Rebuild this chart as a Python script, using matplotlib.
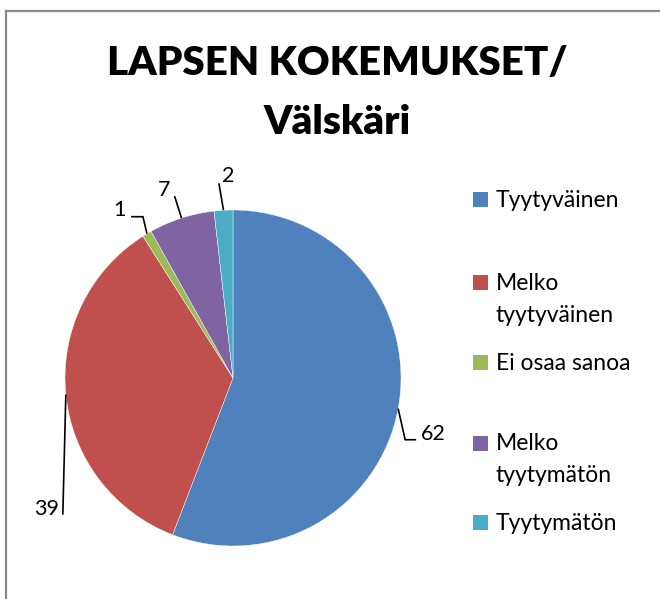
import numpy as np
import matplotlib
matplotlib.use("Agg")
import matplotlib.pyplot as plt
from matplotlib.lines import Line2D
from matplotlib.patches import Rectangle

# ---- data ----
categories = ["Tyytyväinen", "Melko\ntyytyväinen", "Ei osaa sanoa", "Melko\ntyytymätön", "Tyytymätön"]
values = [62, 39, 1, 7, 2]
colors = ["#4F81BD", "#C0504D", "#9BBB59", "#8064A2", "#4BACC6"]
title = "LAPSEN KOKEMUKSET/\nVälskäri"

W, H = 660, 599
FONT = "Lato"

fig = plt.figure(figsize=(W / 100, H / 100), dpi=100)
fig.patch.set_facecolor("white")

def fx(x):
    return x / W

def fy(y):
    return 1 - y / H

# border (chart area frame)
fig.add_artist(Line2D([fx(6), fx(6)], [fy(10.5), 0], transform=fig.transFigure,
                      color="#8a8a8a", lw=1.6))
fig.add_artist(Line2D([fx(6), 1], [fy(10.5), fy(10.5)], transform=fig.transFigure,
                      color="#8a8a8a", lw=1.6))

# pie axes: centre (233, 378) px, radius 168 px
CX, CY, R = 233, 378, 168
ax = fig.add_axes([fx(CX - R), fy(CY + R), 2 * R / W, 2 * R / H])
wedges, _ = ax.pie(values, colors=colors, startangle=90, counterclock=False,
                   radius=1, wedgeprops=dict(edgecolor="white", linewidth=0.3))
ax.set_xlim(-1, 1)
ax.set_ylim(-1, 1)
ax.set_aspect("auto")
ax.axis("off")

def to_data(dx_px, dy_px):
    return dx_px / R, -dy_px / R

# leader line layout (pixel offsets from slice anchor) and label positions
leaders = [
    dict(path=[(7, 31), (18, 31)], text=(23, 31), ha="left"),      # 62
    dict(path=[(-3, 120)], text=(-7, 120), ha="right"),            # 39
    dict(path=[(-4, -17), (-16, -17)], text=(-27, -18), ha="center"),  # 1
    dict(path=[(-7, -22)], text=(-17, -22), ha="center"),           # 7
    dict(path=[(-4.6, -27)], text=(4.4, -28), ha="center"),         # 2
]

for w, v, ld in zip(wedges, values, leaders):
    ang = np.deg2rad((w.theta1 + w.theta2) / 2)
    x0, y0 = np.cos(ang), np.sin(ang)
    xs, ys = [x0], [y0]
    for dx, dy in ld["path"]:
        ddx, ddy = to_data(dx, dy)
        xs.append(x0 + ddx)
        ys.append(y0 + ddy)
    ax.plot(xs, ys, color="black", lw=1.2, clip_on=False, solid_capstyle="butt")
    tdx, tdy = to_data(*ld["text"])
    ax.text(x0 + tdx, y0 + tdy, str(v), ha=ld["ha"], va="baseline",
            fontsize=15.5, family=FONT, color="black", clip_on=False)

# title
fig.text(fx(337), fy(75), title.split("\n")[0], ha="center", va="baseline",
         fontsize=29, fontweight="heavy", family=FONT, color="black")
fig.text(fx(337), fy(134), title.split("\n")[1], ha="center", va="baseline",
         fontsize=29, fontweight="heavy", family=FONT, color="black")

# legend (manual, Excel spacing)
marker_y = [200, 282, 362, 443, 522]
for cat, col, my in zip(categories, colors, marker_y):
    fig.add_artist(Rectangle((fx(473), fy(my + 7.5)), 15 / W, 15 / H,
                             transform=fig.transFigure, facecolor=col,
                             edgecolor="none"))
    for i, line in enumerate(cat.split("\n")):
        fig.text(fx(496), fy(my + 7.5 + 32 * i), line, ha="left", va="baseline",
                 fontsize=16.5, family=FONT, color="black")

fig.savefig("out.png", dpi=100, facecolor="white")
